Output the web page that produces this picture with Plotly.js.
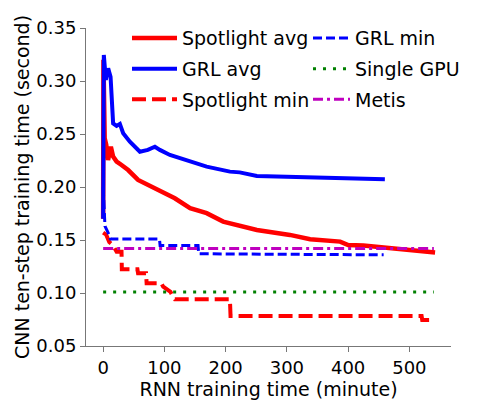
<!DOCTYPE html>
<html>
<head>
<meta charset="utf-8">
<script src="https://cdn.plot.ly/plotly-3.0.1.min.js"></script>
<style>html,body{margin:0;padding:0;background:#fff}#chart{width:483px;height:404px}</style>
</head>
<body>
<div id="chart"></div>
<script>
// Spotlight avg
const spotAvgX = [0, 0.5, 2.5, 5, 8, 12.6, 16.3, 22, 30, 40.8, 57, 79, 87, 117, 142, 169, 196, 251, 305, 338, 387, 400, 425, 452, 506, 542];
const spotAvgY = [0.17, 0.32, 0.246, 0.24, 0.2255, 0.238, 0.2286, 0.224, 0.2208, 0.216, 0.2067, 0.2004, 0.1972, 0.1894, 0.18, 0.1753, 0.1674, 0.1595, 0.1548, 0.1507, 0.1485, 0.1453, 0.1447, 0.1432, 0.1407, 0.1381];
// GRL avg
const grlAvgX = [0, 1.1, 4.4, 8.2, 12.1, 16.3, 21.9, 27.3, 32.7, 43.6, 60, 73, 84.5, 92.6, 109, 141.7, 169, 207, 223, 251, 327, 381, 460];
const grlAvgY = [0.17, 0.3245, 0.301, 0.312, 0.304, 0.26, 0.2576, 0.2595, 0.2507, 0.2428, 0.2333, 0.235, 0.238, 0.235, 0.2302, 0.224, 0.2192, 0.2145, 0.2138, 0.2104, 0.2092, 0.2083, 0.2073];
// Spotlight min
const spotMinX = [0, 5, 10, 16, 22, 30, 30.5, 56, 57, 70, 71, 95, 98, 110, 114, 117, 207, 208, 520, 521, 535];
const spotMinY = [0.157, 0.155, 0.148, 0.145, 0.139, 0.139, 0.1225, 0.1225, 0.1187, 0.1187, 0.1093, 0.1093, 0.106, 0.101, 0.0966, 0.0942, 0.0942, 0.0784, 0.0784, 0.0746, 0.0746];
// GRL min
const grlMinX = [0, 3, 8, 12, 92, 93, 155, 156, 458];
const grlMinY = [0.2, 0.163, 0.157, 0.151, 0.151, 0.1447, 0.1447, 0.137, 0.136];
// Single GPU
const gpuX = [0, 540];
const gpuY = [0.101, 0.101];
// Metis
const metisX = [0, 540];
const metisY = [0.142, 0.142];

const xTicks = [0, 100, 200, 300, 400, 500];

const traces = [
  {x: spotAvgX, y: spotAvgY, name: 'Spotlight avg', mode: 'lines', line: {color: '#ff0000', width: 4.5}, legend: 'legend', legendgroup: 'a'},
  {x: grlAvgX, y: grlAvgY, name: 'GRL avg', mode: 'lines', line: {color: '#0000ff', width: 4}, legend: 'legend', legendgroup: 'b'},
  {x: spotMinX, y: spotMinY, name: 'Spotlight min', mode: 'lines', line: {color: '#ff0000', width: 4, dash: '14px,6px'}, legend: 'legend', legendgroup: 'c'},
  {x: grlMinX, y: grlMinY, name: 'GRL min', mode: 'lines', line: {color: '#0000ff', width: 3, dash: '9px,4px'}, legend: 'legend2', legendgroup: 'd'},
  {x: gpuX, y: gpuY, name: 'Single GPU', mode: 'lines', line: {color: '#008000', width: 3, dash: '3px,7px'}, legend: 'legend2', legendgroup: 'e'},
  {x: metisX, y: metisY, name: 'Metis', mode: 'lines', line: {color: '#bf00bf', width: 3, dash: '10px,4px,3px,4px'}, legend: 'legend2', legendgroup: 'f'}
];

const font = {family: 'DejaVu Sans', size: 19, color: '#000'};
const legendBase = {
  font: font, bgcolor: 'rgba(0,0,0,0)', borderwidth: 0,
  xanchor: 'left', yanchor: 'top',
  tracegroupgap: 3, itemwidth: 45, traceorder: 'grouped'
};

const layout = {
  width: 483, height: 404,
  margin: {l: 86, r: 32, t: 28, b: 58},
  paper_bgcolor: '#fff', plot_bgcolor: '#fff',
  font: font,
  showlegend: true,
  legend: Object.assign({}, legendBase, {x: (127 - 86) / 365, y: 1.028}),
  legend2: Object.assign({}, legendBase, {x: (308 - 86) / 365, y: 1.028, itemwidth: 37}),
  xaxis: {
    range: [-28, 568], tickvals: xTicks, ticktext: xTicks.map(String), automargin: false,
    showgrid: false, zeroline: false, showline: true, linecolor: '#777', linewidth: 1,
    ticks: 'outside', ticklen: 5, tickcolor: '#777', tickfont: {family: 'DejaVu Sans', size: 18, color: '#000'},
    title: {text: 'RNN training time (minute)', font: font, standoff: 0}
  },
  yaxis: {
    range: [0.05, 0.35], dtick: 0.05, tick0: 0.05, tickformat: '.2f', automargin: false,
    showgrid: false, zeroline: false, showline: true, linecolor: '#777', linewidth: 1,
    ticks: 'outside', ticklen: 5, tickcolor: '#777', tickfont: {family: 'DejaVu Sans', size: 18, color: '#000'},
    title: {text: 'CNN ten-step training time (second)', font: font, standoff: 1}
  }
};

Plotly.newPlot('chart', traces, layout, {displayModeBar: false, staticPlot: true});
</script>
</body>
</html>
